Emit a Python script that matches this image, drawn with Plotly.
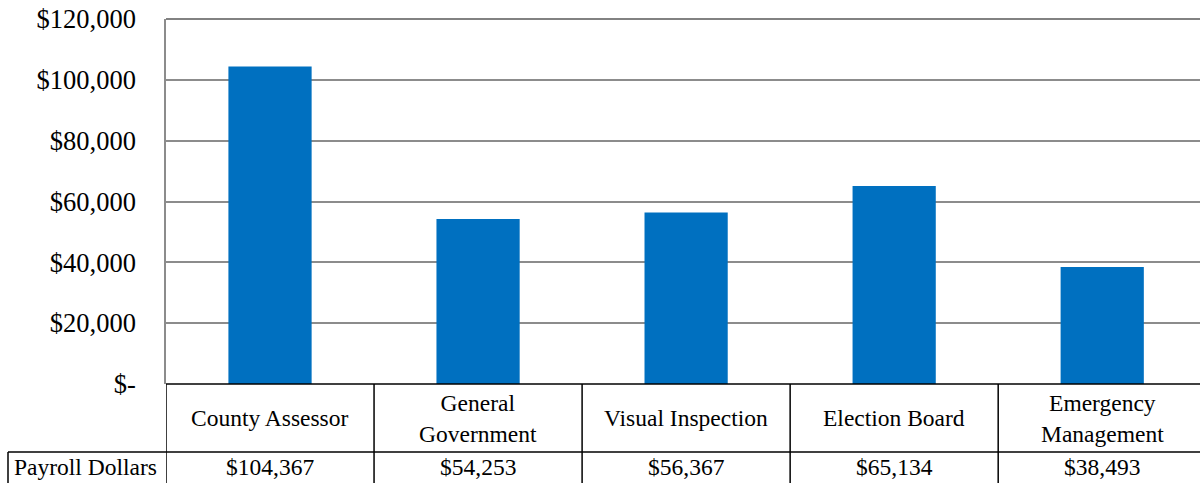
import plotly.graph_objects as go

categories = ["County Assessor", "General<br>Government", "Visual Inspection",
              "Election Board", "Emergency<br>Management"]
payroll = [104367, 54253, 56367, 65134, 38493]
series_name = "Payroll Dollars"
tick_vals = [0, 20000, 40000, 60000, 80000, 100000, 120000]
tick_text = ["$-", "$20,000", "$40,000", "$60,000", "$80,000", "$100,000", "$120,000"]

W, H = 1200, 483
L, R, T, B = 166, 0, 19, 99
plot_h = H - T - B
plot_w = W - L - R

def py(p):
    # pixel row -> paper y
    return (H - B - p) / plot_h

def px(p):
    # pixel column -> paper x
    return (p - L) / plot_w

BLUE = "#0070C0"
FONT = "Liberation Serif, Times New Roman, serif"
TABLE_SIZE = 23.5

n = len(categories)
# the last category column runs a little past the right edge of the page
x_range = [-0.5, n - 0.5 - 0.03]

fig = go.Figure()
fig.add_trace(go.Bar(
    x=list(range(n)), y=payroll, width=0.4,
    marker=dict(color=BLUE, line=dict(width=0)), name=series_name,
    hoverinfo="y",
))

shapes = []
annotations = []

# data table grid
black = dict(color="black", width=1.5)
shapes.append(dict(type="line", xref="paper", yref="paper", x0=0, x1=1, y0=0, y1=0, line=black))
shapes.append(dict(type="line", xref="paper", yref="paper", x0=px(8), x1=1,
                   y0=py(452), y1=py(452), line=black))
shapes.append(dict(type="line", xref="paper", yref="paper", x0=px(8), x1=px(8),
                   y0=py(452), y1=py(H + 2), line=black))
for i in range(n):
    shapes.append(dict(type="line", xref="x", yref="paper", x0=i - 0.5, x1=i - 0.5,
                       y0=0, y1=py(H + 2), line=black))

for i, (cat, val) in enumerate(zip(categories, payroll)):
    annotations.append(dict(x=i, y=py(418), xref="x", yref="paper", text=cat,
                            showarrow=False, font=dict(family=FONT, size=TABLE_SIZE, color="black"),
                            align="center", xanchor="center", yanchor="middle"))
    annotations.append(dict(x=i, y=py(467), xref="x", yref="paper",
                            text="${:,}".format(val), showarrow=False,
                            font=dict(family=FONT, size=TABLE_SIZE, color="black"),
                            xanchor="center", yanchor="middle"))
annotations.append(dict(x=px(85), y=py(467), xref="paper", yref="paper", text=series_name,
                        showarrow=False, font=dict(family=FONT, size=TABLE_SIZE, color="black"),
                        xanchor="center", yanchor="middle"))

fig.update_layout(
    width=W, height=H,
    margin=dict(l=L, r=R, t=T, b=B, pad=0),
    plot_bgcolor="white", paper_bgcolor="white",
    showlegend=False,
    shapes=shapes,
    annotations=annotations,
    xaxis=dict(range=x_range, showticklabels=False, showgrid=False,
               zeroline=False, showline=False, fixedrange=True),
    yaxis=dict(range=[0, 120000], tickvals=tick_vals, ticktext=tick_text,
               showgrid=True, gridcolor="#8c8c8c", gridwidth=1.5,
               zeroline=False, showline=True, linecolor="#8c8c8c", linewidth=1.5,
               ticks="", ticklabelstandoff=23,
               tickfont=dict(family=FONT, size=26.5, color="black"), fixedrange=True),
)
# darker top border line
fig.add_shape(type="line", xref="paper", yref="paper", x0=0, x1=1, y0=1, y1=1,
              line=dict(color="#595959", width=1.5))

fig.write_html("out.html")
